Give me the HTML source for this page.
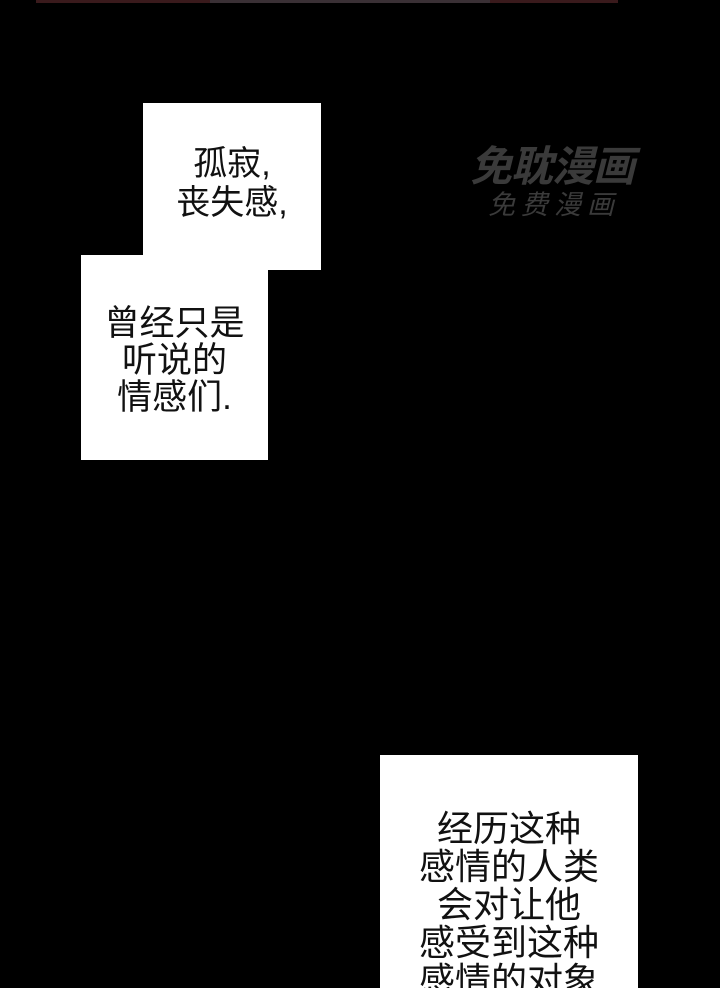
<!DOCTYPE html>
<html><head><meta charset="utf-8"><style>
html,body{margin:0;padding:0;background:#000;width:720px;height:988px;overflow:hidden;position:relative}
.b{position:absolute;background:#fff;color:#111;font-family:"Liberation Sans","Noto Sans CJK SC",sans-serif;text-align:center}
.t{position:absolute;left:0;right:0;text-align:center}
.wm{position:absolute;font-family:"Liberation Sans","Noto Sans CJK SC",sans-serif;color:#3a3a3a;font-style:italic;white-space:nowrap}
</style></head><body>
<div style="position:absolute;left:36px;top:0;width:582px;height:3px;background:#3a1a1c"></div>
<div style="position:absolute;left:210px;top:0;width:280px;height:3px;background:#3a3035"></div>
<div class="wm" style="left:470px;top:142px;font-size:42px;font-weight:bold;letter-spacing:-1px;line-height:50px">免耽漫画</div>
<div class="wm" style="left:488px;top:189px;font-size:27px;letter-spacing:6px;line-height:32px">免费漫画</div>
<div class="b" style="left:143px;top:103px;width:178px;height:167px">
 <div class="t" style="top:42px;font-size:34px;line-height:39px">孤寂,<br>丧失感,</div>
</div>
<div class="b" style="left:81px;top:255px;width:187px;height:205px">
 <div class="t" style="top:50px;font-size:35px;line-height:37px">曾经只是<br>听说的<br>情感们.</div>
</div>
<div class="b" style="left:380px;top:755px;width:258px;height:240px">
 <div class="t" style="top:55px;font-size:36px;line-height:38px">经历这种<br>感情的人类<br>会对让他<br>感受到这种<br>感情的对象</div>
</div>
</body></html>
